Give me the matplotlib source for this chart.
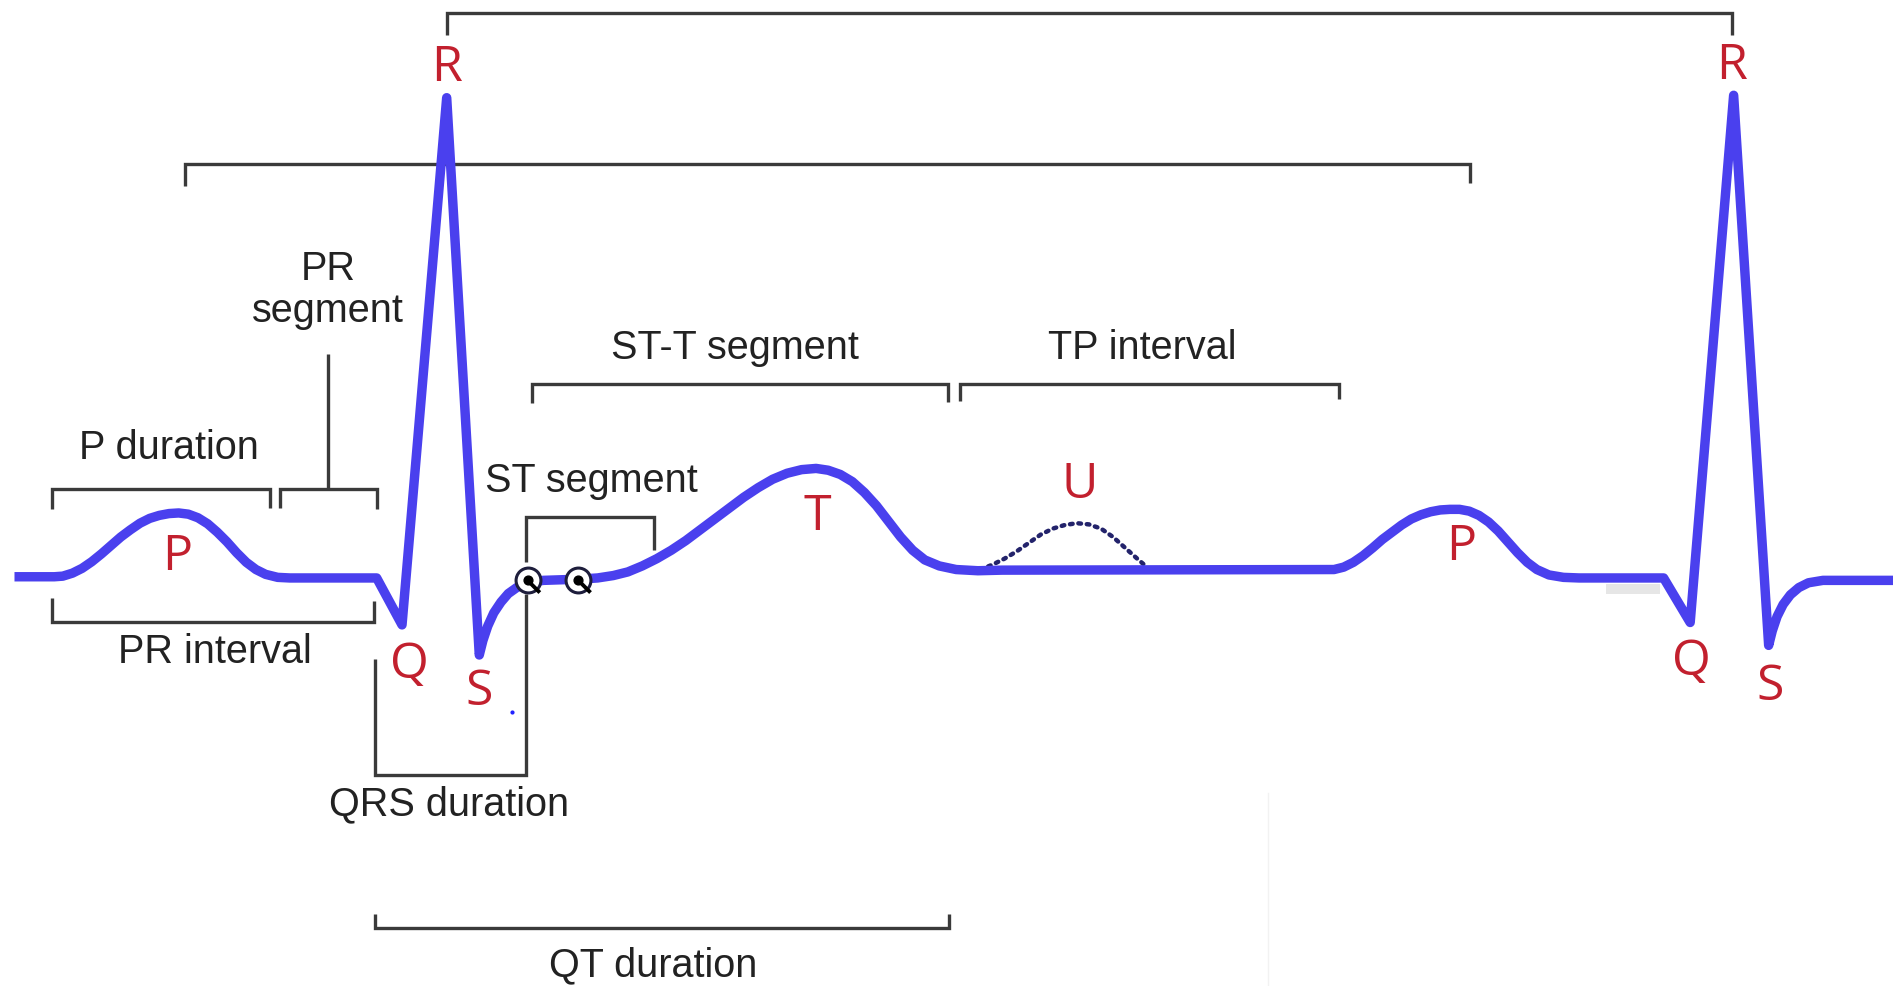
import matplotlib.pyplot as plt
import matplotlib.font_manager as fm

# coordinates (image-like units, y grows downward)
ecg_x = [12, 45, 52, 60, 68, 76, 84, 92, 100, 108, 116, 124, 132, 140, 148, 156, 164,
         172, 180, 188, 196, 204, 212, 220, 230, 240,
         312, 333, 370, 397, 400, 404, 409, 415, 421, 428, 437,
         450, 465, 480, 495, 508, 520, 532, 544,
         556, 568, 580, 592, 604, 616, 628, 640, 652, 664, 676, 686, 696, 706, 716,
         726, 736, 746, 756, 766, 778, 792, 810, 830,
         1105, 1113, 1121, 1129, 1137, 1145, 1153, 1161, 1169, 1177, 1185, 1193, 1201,
         1209, 1217, 1225, 1233, 1241, 1249, 1257, 1265, 1273, 1283, 1295, 1308,
         1378, 1400, 1436, 1465, 1468, 1472, 1477, 1483, 1490, 1498, 1510, 1568]
ecg_y = [480, 480, 479.5, 477, 473, 467.5, 461, 454, 447, 441, 435.5, 431.5, 429, 427.5,
         427, 428, 431, 436, 443, 451, 460, 468, 474, 478, 480.5, 481,
         481, 520, 82, 545, 533, 521, 510, 501, 494, 489, 485,
         483, 482.5, 482, 481, 479, 476, 471, 465,
         458, 450, 441, 432, 423, 414, 406, 399, 394, 391, 390, 391.5, 395, 401, 410,
         421, 434, 447, 458, 466, 471, 474, 475, 474.5,
         474, 472, 468, 462.5, 456, 449, 443, 437, 432, 428.5, 426, 424.5, 424,
         424, 425.5, 429, 434.5, 442, 451, 460, 468, 474, 478.5, 480.5, 481,
         481, 518, 80, 537, 525, 513, 503, 495, 489, 485, 483, 483]

u_x = [812, 822, 832, 842, 852, 862, 872, 882, 892, 902, 912, 922, 932, 942, 950]
u_y = [474, 470, 465, 459, 452, 445, 440, 437, 435.5, 436.5, 440, 447, 456, 465, 472]

# brackets: (list of x, list of y)
brackets = [
    ([370, 370, 1435, 1435], [30, 12, 12, 30]),
    ([153, 153, 1218, 1218], [155, 137, 137, 153]),
    ([441, 441, 785, 785], [336, 320, 320, 335]),
    ([795, 795, 1109, 1109], [334, 320, 320, 332]),
    ([43, 43, 224, 224], [424, 407, 407, 423]),
    ([232, 232, 312, 312], [423, 407, 407, 424]),
    ([272, 272], [295, 407]),
    ([436, 436, 542, 542], [468, 430, 430, 458]),
    ([43, 43, 310, 310], [498, 518, 518, 500]),
    ([311, 311, 436, 436], [548, 645, 645, 494]),
    ([311, 311, 786, 786], [760, 772, 772, 760]),
]

labels = ["PR\nsegment", "P duration", "ST-T segment", "TP interval", "ST segment",
          "PR interval", "QRS duration", "QT duration"]
label_x = [272, 140, 609, 946, 490, 178, 372, 541]
label_y = [241, 372, 289, 289, 400, 542, 668, 802]

waves = ["R", "P", "Q", "S", "T", "U", "P", "R", "Q", "S"]
wave_x = [370, 147, 339, 397, 677, 894, 1210, 1434, 1401, 1466]
wave_y = [57, 463, 553, 575, 430, 403, 455, 55, 550, 571]

circle_x = [437, 479]
circle_y = [483, 483]

names = {f.name for f in fm.fontManager.ttflist}
label_font = "Liberation Sans Narrow" if "Liberation Sans Narrow" in names else "Liberation Sans"

fig = plt.figure(figsize=(18.93, 9.87), dpi=100)
ax = fig.add_axes([0, 0, 1, 1])
ax.set_xlim(0, 1568)
ax.set_ylim(820, 0)
ax.axis("off")

# faint artefacts of the original picture
ax.plot([1050, 1050], [660, 820], color="#f2f2f2", lw=1)
ax.fill_between([1330, 1375], 486, 494, color="#e6e6e6", lw=0)

for bx, by in brackets:
    ax.plot(bx, by, color="#3a3a3a", lw=2.4, solid_joinstyle="miter", solid_capstyle="butt")

ax.plot(u_x, u_y, color="#23236b", lw=3.2, ls=(0, (0.6, 1.3)), dash_capstyle="round")
ax.plot(ecg_x, ecg_y, color="#4a40ee", lw=6.8, solid_joinstyle="round", solid_capstyle="butt")

ax.scatter(circle_x, circle_y, s=320, facecolor="white", edgecolor="#1e1e3c", lw=2.2, zorder=5)
for cx, cy in zip(circle_x, circle_y):
    ax.plot([cx, cx + 9], [cy, cy + 9], color="black", lw=2.8, zorder=6)
    ax.scatter([cx], [cy], s=40, color="black", zorder=6)
ax.scatter([424], [592], s=4, color="#2020ff")

for t, x, y in zip(labels, label_x, label_y):
    ax.text(x, y, t, ha="center", va="center", fontsize=28.5, color="#222222",
            family=label_font, linespacing=1.12)

for t, x, y in zip(waves, wave_x, wave_y):
    ax.text(x, y, t, ha="center", va="center", fontsize=36, color="#c2202e",
            family="Open Sans")

fig.savefig("out.png", dpi=100)
